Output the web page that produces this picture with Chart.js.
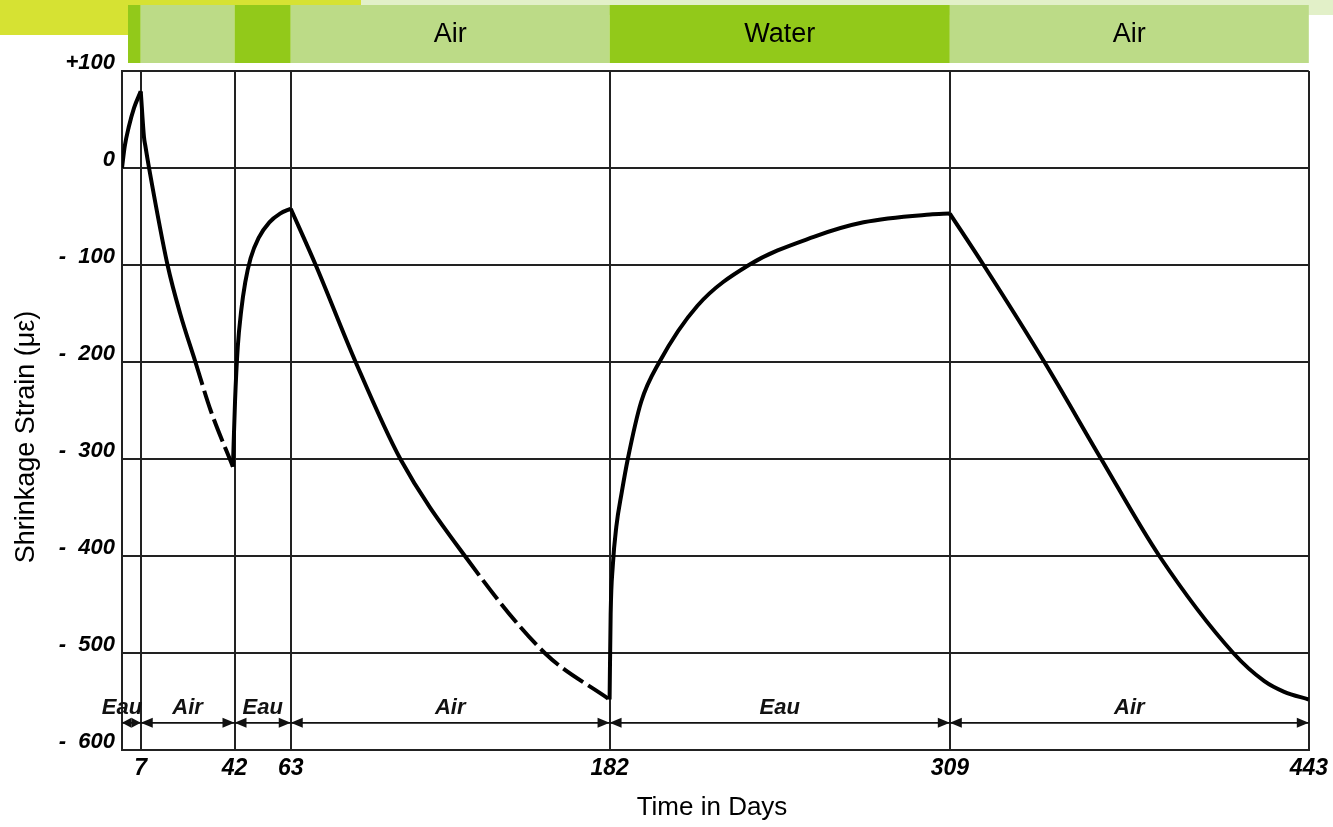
<!DOCTYPE html>
<html>
<head>
<meta charset="utf-8">
<script src="https://cdn.jsdelivr.net/npm/chart.js@4"></script>
<style>
  html, body { margin: 0; padding: 0; background: #fff; }
  #wrap { width: 1333px; height: 827px; }
</style>
</head>
<body>
<div id="wrap"><canvas id="myChart" width="1333" height="827"></canvas></div>
<script>
// Phases - day where the curing medium changes
const phaseDays = [0, 7, 42, 63, 182, 309, 443];
const phaseNames = ['Eau', 'Air', 'Eau', 'Air', 'Eau', 'Air'];
const bandLabels = ['', '', '', 'Air', 'Water', 'Air'];

// Axis ticks
const xTicks = [0, 7, 42, 63, 182, 309, 443];
const yTicks = [100, 0, -100, -200, -300, -400, -500, -600];

// Curve, one piece per phase (days / strain)
const days1 = [0, 1, 2.5, 4.5, 7];
const strain1 = [0, 22, 42, 62, 79];
const days2 = [7, 8.2, 8.7, 10.1, 17, 21.7, 27.4, 33.1, 41.4];
const strain2 = [79, 32, 23, 0, -100, -150, -200, -250, -308];
const days3 = [41.4, 42.2, 43.2, 44.5, 46, 48, 51, 55, 59, 63];
const strain3 = [-308, -240, -185, -147, -118, -93, -72, -56, -47, -42];
const days4 = [63, 72.3, 87.2, 103.9, 128, 157.8, 182];
const strain4 = [-42, -100, -200, -300, -400, -500, -548];
const days5 = [182, 182.4, 183.2, 184.5, 186.5, 188.8, 193.8, 200.6, 214.8, 234, 258.2, 276.8, 301.6, 309];
const strain5 = [-548, -460, -410, -370, -335, -300, -241, -200, -142, -100, -71, -56, -48, -47];
const days6 = [309, 321.6, 344.3, 365.5, 387.2, 414.8, 426.4, 433.8, 443];
const strain6 = [-47, -100, -200, -300, -400, -500, -529, -540, -548];

const pieces = [
  [days1, strain1], [days2, strain2], [days3, strain3],
  [days4, strain4], [days5, strain5], [days6, strain6]
];
// day after which the scanned line turns broken (null = solid)
const brokenFrom = [null, 27.4, null, 128, null, null];

const waterGreen = '#92c91a';
const airGreen = '#bcdb87';
const lineCol = '#222';
const sans = '"Liberation Sans", Arial, sans-serif';
const scanFont = 'bold italic 22px ' + sans;
const arrowLevel = -572;

// Slide background, coloured band and hand-drawn labels
const decor = {
  id: 'decor',
  beforeDraw(chart) {
    const ctx = chart.ctx;
    const xs = chart.scales.x;
    ctx.save();
    ctx.fillStyle = '#fff';
    ctx.fillRect(0, 0, chart.width, chart.height);
    ctx.fillStyle = '#d6e233';
    ctx.fillRect(0, 0, 128, 35);
    ctx.fillRect(128, 0, 233, 5);
    ctx.fillStyle = '#e2f0c8';
    ctx.fillRect(361, 0, 972, 15);

    ctx.font = '27px ' + sans;
    ctx.textAlign = 'center';
    ctx.textBaseline = 'middle';
    for (let i = 0; i < phaseNames.length; i++) {
      const xa = Math.max(xs.getPixelForValue(phaseDays[i]), 128);
      const xb = xs.getPixelForValue(phaseDays[i + 1]);
      ctx.fillStyle = phaseNames[i] == 'Eau' ? waterGreen : airGreen;
      ctx.fillRect(xa, 5, xb - xa, 58);
      if (bandLabels[i]) {
        ctx.fillStyle = '#000';
        ctx.fillText(bandLabels[i], (xa + xb) / 2, 35);
      }
    }
    ctx.restore();
  },
  afterDraw(chart) {
    const ctx = chart.ctx;
    const xs = chart.scales.x;
    const ys = chart.scales.y;
    const y = ys.getPixelForValue(arrowLevel);
    ctx.save();
    ctx.strokeStyle = '#111';
    ctx.fillStyle = '#111';
    ctx.lineWidth = 1.8;
    ctx.font = scanFont;
    ctx.textAlign = 'center';
    ctx.textBaseline = 'alphabetic';
    for (let i = 0; i < phaseNames.length; i++) {
      const xa = xs.getPixelForValue(phaseDays[i]);
      const xb = xs.getPixelForValue(phaseDays[i + 1]);
      const head = Math.min(12, (xb - xa) / 2);
      ctx.beginPath();
      ctx.moveTo(xa, y);
      ctx.lineTo(xb, y);
      ctx.stroke();
      // arrow heads pointing at the phase limits
      ctx.beginPath();
      ctx.moveTo(xa, y);
      ctx.lineTo(xa + head, y - 5);
      ctx.lineTo(xa + head, y + 5);
      ctx.closePath();
      ctx.fill();
      ctx.beginPath();
      ctx.moveTo(xb, y);
      ctx.lineTo(xb - head, y - 5);
      ctx.lineTo(xb - head, y + 5);
      ctx.closePath();
      ctx.fill();
      const tx = i == 0 ? xa : (xa + xb) / 2;
      ctx.fillText(phaseNames[i], tx, y - 9);
    }

    // axis titles
    ctx.fillStyle = '#000';
    ctx.textBaseline = 'middle';
    ctx.font = '26px ' + sans;
    ctx.fillText('Time in Days', 712, 808);
    ctx.font = '27px ' + sans;
    ctx.translate(27, 437);
    ctx.rotate(-Math.PI / 2);
    ctx.fillText('Shrinkage Strain (\u03bc\u03b5)', 0, 0);
    ctx.restore();
  }
};

const datasets = pieces.map((p, k) => ({
  data: p[0].map((d, i) => ({ x: d, y: p[1][i] })),
  borderColor: '#000',
  borderWidth: 4,
  pointRadius: 0,
  fill: false,
  cubicInterpolationMode: 'monotone',
  segment: {
    borderDash: (c) => (brokenFrom[k] != null && c.p0.parsed.x >= brokenFrom[k]) ? [24, 6] : undefined
  }
}));

var ctx = document.getElementById('myChart');

var myChart = new Chart(ctx, {
  type: 'line',
  data: { datasets },
  plugins: [decor],
  options: {
    responsive: false,
    animation: false,
    devicePixelRatio: 1,
    layout: { padding: { left: 0, right: 19, top: 71, bottom: 0 } },
    plugins: {
      legend: { display: false },
      tooltip: { enabled: false }
    },
    scales: {
      x: {
        type: 'linear',
        min: 0,
        max: 443,
        afterBuildTicks: (scale) => { scale.ticks = xTicks.map(v => ({ value: v })); },
        afterFit: (scale) => { scale.height = 77; },
        ticks: {
          color: '#000',
          font: { family: sans, size: 23, style: 'italic', weight: 'bold' },
          padding: 5,
          maxRotation: 0,
          autoSkip: false,
          callback: (v) => v == 0 ? '' : String(v)
        },
        grid: { color: lineCol, lineWidth: 2, drawTicks: false },
        border: { color: lineCol, width: 2 }
      },
      y: {
        min: -600,
        max: 100,
        afterBuildTicks: (scale) => { scale.ticks = yTicks.map(v => ({ value: v })); },
        afterFit: (scale) => { scale.width = 122; },
        ticks: {
          color: '#000',
          font: { family: sans, size: 22, style: 'italic', weight: 'bold' },
          padding: 7,
          labelOffset: -8,
          callback: (v) => v > 0 ? '+' + v : (v < 0 ? '-  ' + (-v) : '0')
        },
        grid: { color: lineCol, lineWidth: 2, drawTicks: false },
        border: { color: lineCol, width: 2 }
      }
    }
  }
});
</script>
</body>
</html>
